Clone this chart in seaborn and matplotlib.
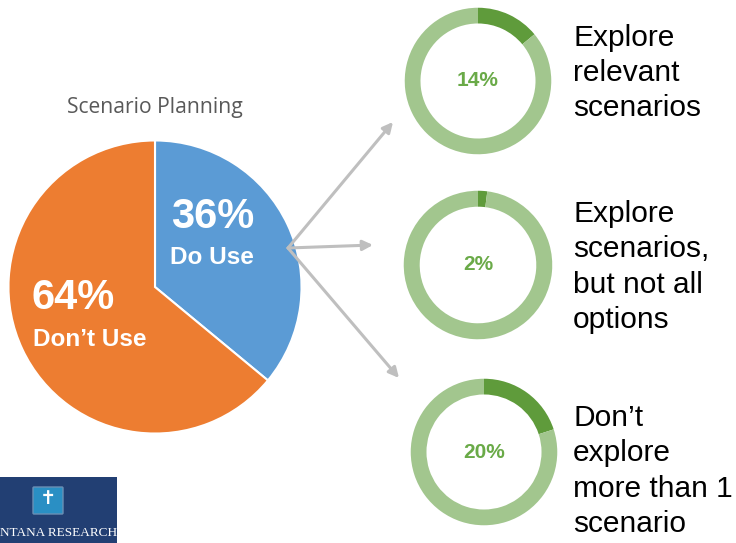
import matplotlib
matplotlib.use("Agg")
import matplotlib.pyplot as plt
import seaborn as sns
from matplotlib.patches import Rectangle, FancyBboxPatch

sns.set_theme(style="white")
plt.rcParams['font.family'] = ['Liberation Sans', 'DejaVu Sans']

# ---- data ----
pie_labels = ["Do Use", "Don\u2019t Use"]
pie_values = [36, 64]
pie_title = "Scenario Planning"
donut_values = [14, 2, 20]
donut_labels = ["Explore\nrelevant\nscenarios",
                "Explore\nscenarios,\nbut not all\noptions",
                "Don\u2019t\nexplore\nmore than 1\nscenario"]

W, H = 736, 543
blue, orange = "#5b9bd5", "#ed7d31"
dark_green, light_green = "#5f9b3b", "#a2c68e"
label_green = "#6aaa48"

fig = plt.figure(figsize=(W / 100, H / 100), dpi=100)
fig.patch.set_facecolor("white")


def px_axes(cx, cy, r):
    return fig.add_axes([(cx - r) / W, (H - cy - r) / H, 2 * r / W, 2 * r / H])


# main pie
ax = px_axes(155, 287, 148)
ax.pie(pie_values, colors=[blue, orange], startangle=90, counterclock=False,
       wedgeprops=dict(edgecolor="white", linewidth=1.5))
ax.set_xlim(-1.01, 1.01)
ax.set_ylim(-1.01, 1.01)
ax.set_aspect("equal")
ax.axis("off")

# donuts
donut_pos = [(478, 81, 74), (478, 265, 75), (484, 452, 74)]
for v, (cx, cy, r) in zip(donut_values, donut_pos):
    dax = px_axes(cx, cy, r)
    dax.pie([v, 100 - v], colors=[dark_green, light_green], startangle=90,
            counterclock=False, wedgeprops=dict(width=0.215, edgecolor="none"))
    dax.set_xlim(-1.01, 1.01)
    dax.set_ylim(-1.01, 1.01)
    dax.set_aspect("equal")
    dax.axis("off")
    dax.text(0, 0, f"{v}%", ha="center", va="center", fontsize=15,
             fontweight="bold", color=label_green)

# overlay in pixel coords
ov = fig.add_axes([0, 0, 1, 1], zorder=5)
ov.set_xlim(0, W)
ov.set_ylim(H, 0)
ov.axis("off")
ov.patch.set_alpha(0)

ov.text(155, 108, pie_title, ha="center", va="center", fontsize=15.2,
        color="#595959", family=["Open Sans", "DejaVu Sans"])

ov.text(213, 217, f"{pie_values[0]}%", ha="center", va="center", fontsize=30,
        fontweight="bold", color="white")
ov.text(212, 257, pie_labels[0], ha="center", va="center", fontsize=17.5,
        fontweight="bold", color="white")
ov.text(73, 298, f"{pie_values[1]}%", ha="center", va="center", fontsize=30,
        fontweight="bold", color="white")
ov.text(90, 340, pie_labels[1], ha="center", va="center", fontsize=17.5,
        fontweight="bold", color="white")

# arrows
start = (288, 248)
for end in [(393, 122), (373, 245), (399, 378)]:
    ov.annotate("", xy=end, xytext=start,
                arrowprops=dict(arrowstyle="-|>,head_length=0.5,head_width=0.25",
                                color="#bfbfbf", lw=2.2, shrinkA=0, shrinkB=0))

# side labels
text_pos = [(573, 73), (573, 267), (573, 471)]
for lab, (x, y) in zip(donut_labels, text_pos):
    ov.text(x, y, lab, ha="left", va="center", fontsize=21.5, color="black",
            linespacing=1.33)

# logo
ov.add_patch(Rectangle((0, 477), 117, 66, facecolor="#223f73", edgecolor="none"))
ov.add_patch(FancyBboxPatch((34, 488), 28, 25, boxstyle="round,pad=1",
                            facecolor="#2a8fc4", edgecolor="#6a8fb5", lw=1))
ov.text(48, 499, "\u271d", ha="center", va="center", fontsize=14, color="white")
ov.text(0, 533, "NTANA RESEARCH", ha="left", va="center", fontsize=9.5,
        color="white", family=["Liberation Serif", "DejaVu Serif"])

fig.savefig("out.png", dpi=100, facecolor="white")
